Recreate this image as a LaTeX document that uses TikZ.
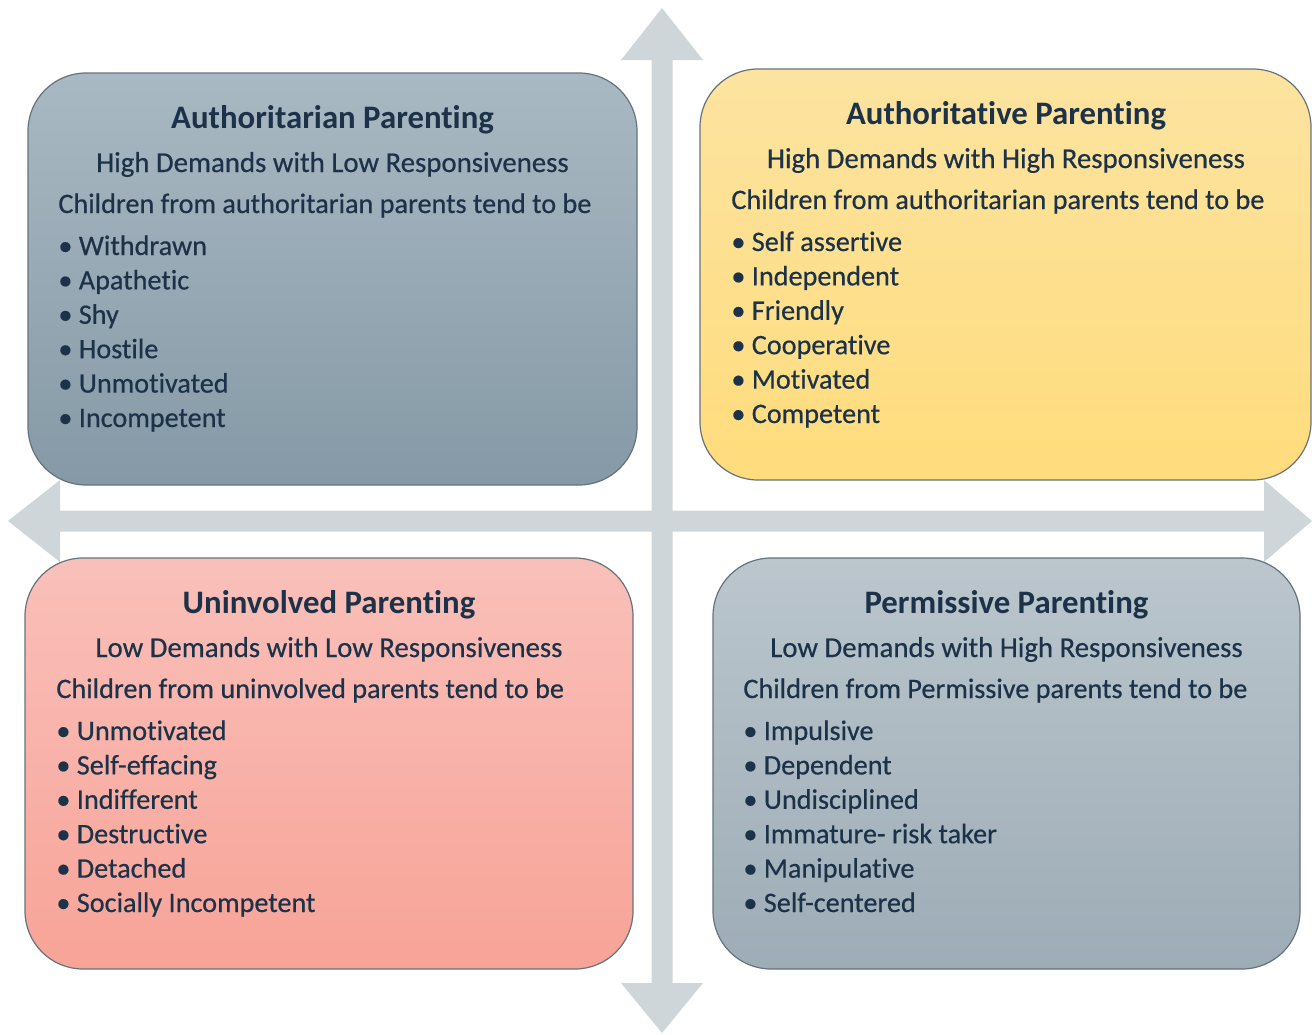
\documentclass[tikz,border=0pt]{standalone}
\usepackage{fontspec}
\setmainfont{Carlito}[Ligatures={NoCommon}]
\newfontfamily\bodyfont{Carlito}[Ligatures={NoCommon}, FakeBold=0.5]

\definecolor{ink}{HTML}{1C3248}
\definecolor{rim}{HTML}{66737C}
\definecolor{axisgrey}{HTML}{CFD6DA}
\definecolor{slatetop}{HTML}{A9B9C3}
\definecolor{slatebot}{HTML}{8599A6}
\definecolor{goldtop}{HTML}{FCE3A0}
\definecolor{goldbot}{HTML}{FFDC7C}
\definecolor{rosetop}{HTML}{F9C0BA}
\definecolor{rosebot}{HTML}{F8A397}
\definecolor{greytop}{HTML}{BBC6CD}
\definecolor{greybot}{HTML}{9DACB6}

\begin{document}
\begin{tikzpicture}[x=0.5pt,y=-0.5pt,
    quad/.style={draw=rim, line width=0.6pt, rounded corners=29pt, inner sep=0pt},
    heading/.style={anchor=base, inner sep=0pt, text=ink, font=\fontsize{16.4}{19}\selectfont\bfseries},
    subhead/.style={anchor=base, inner sep=0pt, text=ink, font=\bodyfont\fontsize{14.4}{17}\selectfont},
    lead/.style={anchor=base west, inner sep=0pt, text=ink, font=\bodyfont\fontsize{14.1}{17}\selectfont},
    point/.style={lead}]
    \useasboundingbox (0,0) rectangle (1312,1034);

    % the two axes, one outline with four heads
    \fill[axisgrey] (662,8) -- (703,60) -- (672.5,60) -- (672.5,510.5)
      -- (1264,510.5) -- (1264,480) -- (1312,521) -- (1264,562) -- (1264,531.5)
      -- (672.5,531.5) -- (672.5,983) -- (703,983) -- (662,1033) -- (621,983)
      -- (651.5,983) -- (651.5,531.5) -- (60,531.5) -- (60,562) -- (8,521)
      -- (60,480) -- (60,510.5) -- (651.5,510.5) -- (651.5,60) -- (621,60) -- cycle;

    % quadrant boxes
    \node[quad, top color=slatetop, bottom color=slatebot,
      minimum width=304.5pt, minimum height=206pt] (authoritarian) at (332.5,279) {};
    \node[quad, top color=goldtop, bottom color=goldbot,
      minimum width=305.5pt, minimum height=205.5pt] (authoritative) at (1005.5,274.5) {};
    \node[quad, top color=rosetop, bottom color=rosebot,
      minimum width=304pt, minimum height=205.5pt] (uninvolved) at (329,763.5) {};
    \node[quad, top color=greytop, bottom color=greybot,
      minimum width=293.5pt, minimum height=205.5pt] (permissive) at (1006.5,763.5) {};

    % top left
    \node[heading] (authoritarian-title) at (332.5,128) {Authoritarian Parenting};
    \node[subhead] (authoritarian-sub) at (332.5,172) {High Demands with Low Responsiveness};
    \node[lead] (authoritarian-lead) at (58,213) {Children from authoritarian parents tend to be};
    \foreach \trait [count=\i from 0] in {Withdrawn, Apathetic, Shy, Hostile, Unmotivated, Incompetent}
      \node[point] (authoritarian-\i) at (58,{255+34.4*\i}) {\textbullet\ \trait};

    % top right
    \node[heading] (authoritative-title) at (1006,124) {Authoritative Parenting};
    \node[subhead] (authoritative-sub) at (1006,168) {High Demands with High Responsiveness};
    \node[lead] (authoritative-lead) at (731,209) {Children from authoritarian parents tend to be};
    \foreach \trait [count=\i from 0] in {Self assertive, Independent, Friendly, Cooperative, Motivated, Competent}
      \node[point] (authoritative-\i) at (731,{251+34.4*\i}) {\textbullet\ \trait};

    % bottom left
    \node[heading] (uninvolved-title) at (329,613) {Uninvolved Parenting};
    \node[subhead] (uninvolved-sub) at (329,657) {Low Demands with Low Responsiveness};
    \node[lead] (uninvolved-lead) at (56,698) {Children from uninvolved parents tend to be};
    \foreach \trait [count=\i from 0] in {Unmotivated, Self-effacing, Indifferent, Destructive, Detached, Socially Incompetent}
      \node[point] (uninvolved-\i) at (56,{740+34.4*\i}) {\textbullet\ \trait};

    % bottom right
    \node[heading] (permissive-title) at (1006.5,613) {Permissive Parenting};
    \node[subhead] (permissive-sub) at (1006.5,657) {Low Demands with High Responsiveness};
    \node[lead] (permissive-lead) at (743,698) {Children from Permissive parents tend to be};
    \foreach \trait [count=\i from 0] in {Impulsive, Dependent, Undisciplined, Immature- risk taker, Manipulative, Self-centered}
      \node[point] (permissive-\i) at (743,{740+34.4*\i}) {\textbullet\ \trait};
\end{tikzpicture}
\end{document}
